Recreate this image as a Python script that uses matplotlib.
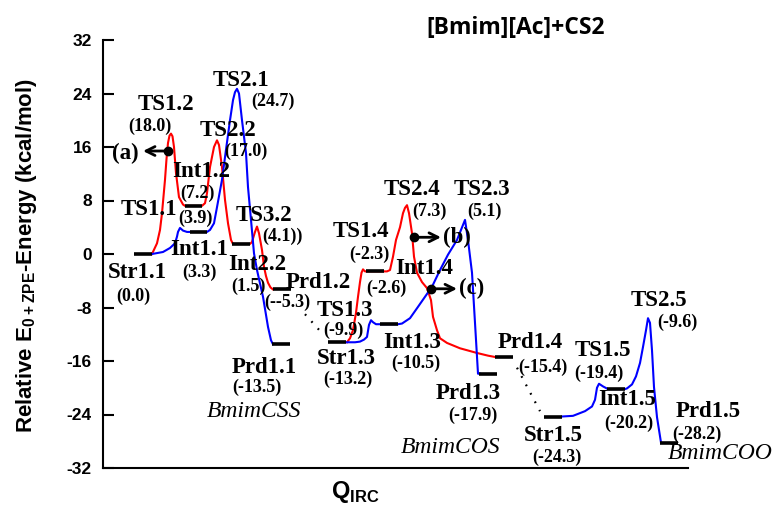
import matplotlib
matplotlib.use("Agg")
import matplotlib.pyplot as plt

plt.rcParams['mathtext.fontset'] = 'custom'
plt.rcParams['mathtext.rm'] = 'Liberation Sans'
plt.rcParams['mathtext.bf'] = 'Liberation Sans:bold'
plt.rcParams['axes.unicode_minus'] = False

# -------- stationary points (bars) --------
level_names = ['Str1.1', 'Int1.2', 'Int1.1', 'Int2.2', 'Prd1.2', 'Prd1.1', 'Str1.3',
               'Int1.4', 'Int1.3', 'Prd1.4', 'Prd1.3', 'Str1.5', 'Int1.5', 'Prd1.5']
level_q = [142.5, 193.5, 198.5, 241.5, 282.5, 281.5, 337.5,
           375, 389, 504, 488.5, 553.5, 616.5, 669.5]
level_e = [0.0, 7.2, 3.3, 1.5, -5.3, -13.5, -13.2,
           -2.6, -10.5, -15.4, -17.9, -24.3, -20.2, -28.2]

# -------- IRC paths --------
# red: Str1.1 -> TS1.2 -> Int1.2 -> TS2.2 -> Int2.2 -> TS3.2 -> Prd1.2
red1_q = [152, 157, 160, 162, 165, 166.5, 168, 169.5, 171, 172.5, 174, 176, 179, 183, 185,
          202, 205, 207, 210, 214, 217, 219, 222, 225, 228, 231, 233,
          250, 252, 255, 257, 259, 262, 264, 266, 268, 270.5, 273]
red1_e = [0.0, 1.6, 3.6, 6.1, 11.1, 14.2, 16.6, 17.7, 18.0, 17.6, 16.0, 12.1, 8.5, 7.4, 7.2,
          7.2, 7.6, 9.1, 13.0, 16.0, 17.0, 16.3, 13.0, 8.1, 4.6, 2.1, 1.5,
          1.5, 1.8, 3.3, 4.1, 3.1, 0.6, -1.9, -3.3, -4.3, -5.0, -5.3]

# blue: Str1.1 -> TS1.1 -> Int1.1 -> TS2.1 -> Prd1.1
blue1_q = [152, 163, 170, 175, 177, 178, 180, 183, 187, 190,
           207, 210, 214, 217, 222, 226, 230, 233, 235, 237, 239, 242, 246, 248, 251,
           254, 257, 263, 268, 271, 273]
blue1_e = [0.0, 0.3, 0.9, 1.6, 2.6, 3.3, 3.9, 3.5, 3.3, 3.3,
           3.3, 3.6, 4.6, 7.0, 11.1, 15.6, 20.0, 23.0, 24.2, 24.7, 24.0, 20.0, 15.1, 10.0, 5.1,
           0.1, -2.4, -6.4, -10.9, -12.9, -13.5]

# red: Str1.3 -> TS1.4 -> Int1.4 -> TS2.4 -> Prd1.4
red2_q = [347, 350, 353, 356, 358, 360, 361.5, 363, 365, 367,
          383, 387, 390, 393, 396, 400, 403, 405, 407, 409, 412, 414, 417, 422, 427,
          431, 433, 437, 440, 447, 460, 477, 488, 495]
red2_e = [-13.2, -12.6, -11.4, -8.8, -6.4, -4.2, -2.8, -2.3, -2.6, -2.6,
          -2.6, -2.6, -2.4, -0.4, 2.1, 4.0, 6.1, 6.9, 7.3, 6.1, 3.1, -0.4, -2.8, -4.2, -5.1,
          -6.9, -9.4, -11.4, -12.6, -13.3, -14.1, -14.8, -15.2, -15.4]

# blue: Str1.3 -> TS1.3 -> Int1.3 -> TS2.3 -> Prd1.3
blue2_q = [347, 355, 360, 364, 367, 369, 371, 373, 376, 380,
           398, 402, 410, 418, 425, 432, 440, 448, 457, 465, 468, 472, 475, 478, 480]
blue2_e = [-13.2, -13.2, -13.1, -12.8, -12.4, -10.6, -9.9, -10.2, -10.5, -10.5,
           -10.5, -10.4, -9.6, -7.9, -6.4, -4.9, -2.4, -0.1, 2.1, 5.1, 2.1, -2.8, -10.3, -17.9, -17.9]

# blue: Str1.5 -> TS1.5 -> Int1.5 -> TS2.5 -> Prd1.5
blue3_q = [562, 573, 585, 592, 595, 597, 599, 603, 608,
           625, 627, 632, 636, 640, 643, 646, 648, 650, 652, 654, 657, 661]
blue3_e = [-24.3, -24.2, -23.5, -22.8, -21.8, -20.0, -19.4, -19.8, -20.2,
           -20.2, -20.1, -19.5, -18.3, -16.3, -13.9, -11.4, -9.6, -10.3, -14.4, -19.9, -24.4, -28.2]

# dotted connections between channels
dot_links = [((305, 323), (-9.0, -12.0)), ((517, 540), (-17.0, -23.5))]

# marked points (a), (b), (c): dot position, arrow end
marks = [('(a)', 168, 15.4, 143), ('(b)', 414, 2.5, 441), ('(c)', 431, -5.2, 457)]

# -------- text labels --------
labels = [
    ('TS1.2', 166, 22.4, 'name'), ('(18.0)', 150, 19.1, 'val'),
    ('(a)', 125, 15.1, 'name'),
    ('TS2.2', 228, 18.4, 'name'), ('(17.0)', 246, 15.3, 'val'),
    ('Int1.2', 201, 12.3, 'name'), ('(7.2)', 197, 9.1, 'val'),
    ('TS1.1', 149, 6.7, 'name'), ('(3.9)', 195, 5.4, 'val'),
    ('TS2.1', 241, 25.9, 'name'), ('(24.7)', 273, 22.9, 'val'),
    ('TS3.2', 264, 5.7, 'name'), ('(4.1))', 282, 2.7, 'val'),
    ('Int1.1', 199, 0.7, 'name'), ('(3.3)', 199, -2.7, 'val'),
    ('Str1.1', 137, -2.8, 'name'), ('(0.0)', 133, -6.3, 'val'),
    ('Int2.2', 257, -1.6, 'name'), ('(1.5)', 248, -4.8, 'val'),
    ('Prd1.2', 318, -4.2, 'name'), ('(--5.3)', 287, -7.3, 'val'),
    ('Prd1.1', 264, -16.9, 'name'), ('(-13.5)', 257, -20.0, 'val'),
    ('BmimCSS', 254, -23.6, 'ital'),
    ('TS2.4', 412, 9.7, 'name'), ('(7.3)', 429, 6.4, 'val'),
    ('TS2.3', 482, 9.7, 'name'), ('(5.1)', 484, 6.4, 'val'),
    ('TS1.4', 361, 3.3, 'name'), ('(-2.3)', 369, 0.0, 'val'),
    ('Int1.4', 424, -2.1, 'name'), ('(-2.6)', 386, -5.2, 'val'),
    ('(b)', 457, 2.5, 'name'), ('(c)', 472, -5.1, 'name'),
    ('TS1.3', 345, -8.5, 'name'), ('(-9.9)', 343, -11.4, 'val'),
    ('Str1.3', 346, -15.6, 'name'), ('(-13.2)', 348, -18.8, 'val'),
    ('Int1.3', 412, -13.2, 'name'), ('(-10.5)', 416, -16.4, 'val'),
    ('Prd1.4', 530, -13.3, 'name'), ('(-15.4)', 543, -16.9, 'val'),
    ('Prd1.3', 468, -20.8, 'name'), ('(-17.9)', 473, -24.1, 'val'),
    ('BmimCOS', 451, -29.0, 'ital'),
    ('TS2.5', 659, -6.9, 'name'), ('(-9.6)', 677, -10.2, 'val'),
    ('TS1.5', 603, -14.4, 'name'), ('(-19.4)', 599, -17.9, 'val'),
    ('Int1.5', 627, -21.8, 'name'), ('(-20.2)', 629, -25.3, 'val'),
    ('Prd1.5', 708, -23.6, 'name'), ('(-28.2)', 697, -26.9, 'val'),
    ('BmimCOO', 720, -29.8, 'ital'),
    ('Str1.5', 553, -27.2, 'name'), ('(-24.3)', 557, -30.4, 'val'),
]

styles = {
    'name': dict(fontsize=16.5, fontweight='bold', fontstyle='normal'),
    'val': dict(fontsize=13, fontweight='bold', fontstyle='normal'),
    'ital': dict(fontsize=17, fontweight='normal', fontstyle='italic'),
}

# -------- plot --------
fig = plt.figure(figsize=(7.81, 5.21), dpi=100)
ax = fig.add_axes([103 / 781, 1 - 468 / 521, 585 / 781, 428 / 521])

for q, e, c in [(red1_q, red1_e, 'red'), (blue1_q, blue1_e, 'blue'),
                (red2_q, red2_e, 'red'), (blue2_q, blue2_e, 'blue'),
                (blue3_q, blue3_e, 'blue')]:
    ax.plot(q, e, color=c, lw=1.5, zorder=2, solid_joinstyle='round')

ax.hlines(level_e, [q - 9 for q in level_q], [q + 9 for q in level_q],
          color='black', lw=2.6, zorder=3)

for xs, ys in dot_links:
    ax.plot(xs, ys, color='black', lw=1.6, linestyle=(0, (0.8, 3.5)), zorder=2)

for name, xd, yd, xa in marks:
    ax.plot(xd, yd, 'o', color='black', ms=6, zorder=4)
    ax.annotate('', xy=(xa, yd), xytext=(xd, yd),
                arrowprops=dict(arrowstyle='->', lw=2, color='black',
                                shrinkA=0, shrinkB=0, mutation_scale=16), zorder=4)

for txt, x, y, kind in labels:
    ax.text(x, y, txt, ha='center', va='center', family='Liberation Serif',
            zorder=5, **styles[kind])

ax.set_xlim(103, 688)
ax.set_ylim(-32, 32)
ax.set_xticks([])
ax.set_yticks(range(-32, 33, 8))
ax.spines['top'].set_visible(False)
ax.spines['right'].set_visible(False)
ax.spines['left'].set_linewidth(1.5)
ax.spines['bottom'].set_linewidth(1.5)
ax.tick_params(axis='y', direction='in', length=8, width=1.5, pad=8, labelsize=12.5)
for t in ax.get_yticklabels():
    t.set_fontfamily('Liberation Sans')
    t.set_fontweight('bold')

fig.text(27 / 781, 1 - 255 / 521, r'Relative E$_{\mathbf{0+ZPE}}$-Energy (kcal/mol)',
         rotation=90, ha='center', va='center', fontsize=16, fontweight='bold',
         family='Liberation Sans')
fig.text(355 / 781, 1 - 492 / 521, r'Q$_{\mathbf{IRC}}$', ha='center', va='center',
         fontsize=17, fontweight='bold', family='Liberation Sans')
fig.text(516 / 781, 1 - 28 / 521, '[Bmim][Ac]+CS2', ha='center', va='center',
         fontsize=16.5, fontweight='bold', family='Open Sans')

fig.savefig('out.png', dpi=100)
